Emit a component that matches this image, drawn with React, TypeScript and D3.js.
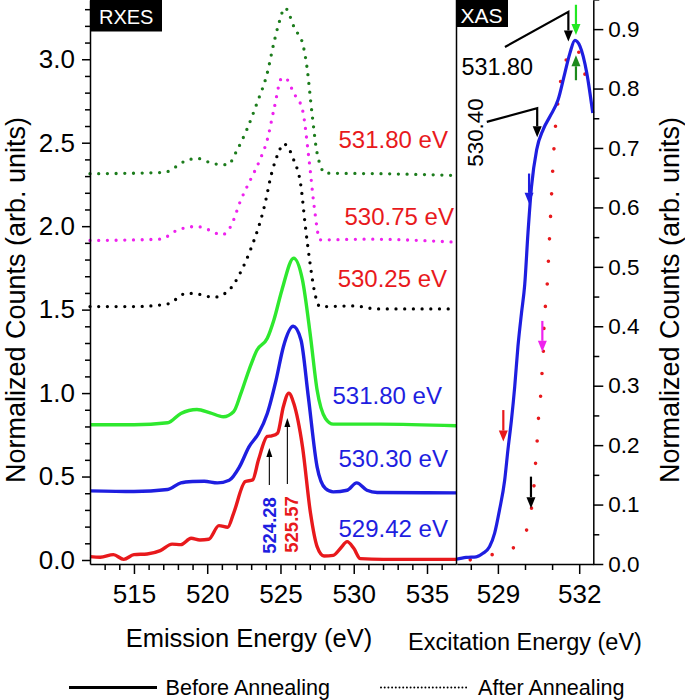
import { useEffect, useRef } from "react";
import * as d3 from "d3";

type Pt = [number, number];

const FONT = "'Liberation Sans', Arial, Helvetica, sans-serif";

// RXES spectra: emission energy (eV), normalized counts (vertical offsets included)
const rxes52942: Pt[] = [
  [512.0, 0.02], [512.7, 0.016], [513.6, 0.032], [514.3, 0.004], [515.0, 0.032],
  [515.9, 0.036], [516.8, 0.056], [517.6, 0.095], [518.2, 0.092], [518.9, 0.13],
  [519.5, 0.12], [520.1, 0.124], [520.8, 0.206], [521.4, 0.196], [521.8, 0.28],
  [522.6, 0.47], [523.1, 0.48], [523.5, 0.6], [524.1, 0.74], [524.4, 0.744],
  [524.8, 0.76], [525.2, 0.92], [525.57, 1.0], [525.9, 0.94], [526.5, 0.68],
  [527.05, 0.28], [527.5, 0.08], [527.97, 0.024], [528.6, 0.028], [529.1, 0.07],
  [529.55, 0.11], [530.0, 0.07], [530.45, 0.008], [532.0, 0.004], [537.0, 0.004],
];
const rxes53030: Pt[] = [
  [512.0, 0.414], [515.0, 0.41], [517.3, 0.422], [518.2, 0.462], [519.0, 0.47],
  [519.8, 0.472], [520.7, 0.462], [521.5, 0.478], [522.2, 0.558], [522.85, 0.678],
  [523.5, 0.758], [524.1, 0.878], [524.7, 1.078], [525.2, 1.278], [525.87, 1.4],
  [526.4, 1.318], [526.9, 0.978], [527.5, 0.558], [528.07, 0.428], [528.6, 0.408],
  [529.55, 0.418], [530.2, 0.462], [530.9, 0.418], [531.6, 0.404], [537.0, 0.402],
];
const rxes53180: Pt[] = [
  [512.0, 0.81], [515.0, 0.81], [517.3, 0.822], [518.2, 0.878], [519.3, 0.902],
  [520.2, 0.882], [521.1, 0.858], [521.8, 0.888], [522.3, 0.998], [522.85, 1.138],
  [523.4, 1.258], [524.1, 1.328], [524.55, 1.438], [525.1, 1.618], [525.9, 1.808],
  [526.5, 1.678], [527.05, 1.338], [527.5, 1.018], [528.07, 0.848], [528.6, 0.814],
  [531.8, 0.814], [537.0, 0.804],
];
const rxesA53025: Pt[] = [
  [512.0, 1.518], [515.0, 1.518], [517.3, 1.534], [518.6, 1.598], [519.3, 1.594],
  [520.45, 1.574], [521.5, 1.618], [522.3, 1.728], [522.95, 1.858], [523.9, 2.118],
  [524.4, 2.318], [524.9, 2.448], [525.2, 2.494], [525.9, 2.398], [526.4, 2.238],
  [526.7, 1.998], [527.05, 1.758], [527.3, 1.618], [527.7, 1.518], [530.0, 1.522],
  [531.6, 1.504], [537.0, 1.504],
];
const rxesA53075: Pt[] = [
  [512.0, 1.914], [516.8, 1.922], [518.0, 1.978], [519.3, 1.998], [520.1, 1.978],
  [521.0, 1.948], [521.6, 1.998], [522.3, 2.158], [522.95, 2.278], [523.6, 2.398],
  [524.1, 2.518], [524.55, 2.698], [525.1, 2.888], [525.45, 2.878], [525.9, 2.798],
  [526.5, 2.698], [526.95, 2.398], [527.3, 2.118], [527.7, 1.918], [530.9, 1.922],
  [537.0, 1.904],
];
const rxesA53180: Pt[] = [
  [512.0, 2.314], [517.05, 2.322], [518.6, 2.394], [519.3, 2.406], [520.45, 2.374],
  [521.4, 2.368], [522.05, 2.458], [522.7, 2.578], [523.4, 2.738], [524.1, 2.918],
  [524.55, 3.098], [524.9, 3.218], [525.3, 3.308], [526.0, 3.178], [526.5, 3.098],
  [526.8, 2.958], [527.15, 2.678], [527.5, 2.438], [528.07, 2.318], [532.05, 2.314],
  [537.0, 2.304],
];

// XAS: excitation energy (eV), normalized counts
const xasBefore: Pt[] = [
  [527.46, 0.008], [527.83, 0.011], [528.2, 0.012], [528.45, 0.018], [528.69, 0.029],
  [528.88, 0.052], [529.06, 0.091], [529.25, 0.141], [529.37, 0.192], [529.5, 0.242],
  [529.62, 0.298], [529.74, 0.366], [529.87, 0.422], [529.99, 0.47], [530.11, 0.557],
  [530.24, 0.635], [530.43, 0.697], [530.67, 0.731], [530.92, 0.753], [531.22, 0.781],
  [531.47, 0.826], [531.66, 0.86], [531.84, 0.881], [532.03, 0.871], [532.28, 0.826],
  [532.5, 0.759],
];
const xasAfter: Pt[] = [
  [527.98, 0.007], [528.72, 0.015], [529.49, 0.025], [530.05, 0.056], [530.24, 0.094],
  [530.33, 0.131], [530.39, 0.17], [530.45, 0.208], [530.5, 0.247], [530.58, 0.285],
  [530.63, 0.323], [530.68, 0.361], [530.7, 0.4], [530.76, 0.438], [530.83, 0.478],
  [530.87, 0.516], [530.91, 0.554], [530.95, 0.592], [530.99, 0.631], [531.03, 0.669],
  [531.08, 0.707], [531.14, 0.745], [531.23, 0.783], [531.35, 0.822], [531.6, 0.855],
  [531.9, 0.869], [532.15, 0.831], [532.46, 0.805],
];

const rxesLabels = ["531.80 eV", "530.75 eV", "530.25 eV", "531.80 eV", "530.30 eV", "529.42 eV"];
// where each label ends (energy) and sits (count), same order as rxesLabels
const rxesLabelAt: Pt[] = [
  [536.43, 2.469], [536.84, 2.007], [536.37, 1.636], [536.02, 0.935], [536.43, 0.557], [536.43, 0.138],
];

const emissionTicks = [515, 520, 525, 530, 535];
const emissionMinor = d3.range(513, 537).filter((v) => v % 5 !== 0);
const excitationTicks = [529, 532];
const excitationMinor = [528, 530, 531];
const leftTicks = [0, 0.5, 1.0, 1.5, 2.0, 2.5, 3.0];
const leftMinor = d3.range(0, 34).filter((i) => i % 5 !== 0).map((i) => i / 10);
const rightTicks = d3.range(0, 10).map((i) => i / 10);
const rightMinor = d3.range(0, 10).map((i) => i / 10 + 0.05);

const peakLabels = ["524.28", "525.57"];
const xasLabels = ["531.80", "530.40"];

const RED = "#e8191c";
const BLUE = "#1e1ee0";

export default function App() {
  const svgRef = useRef<SVGSVGElement>(null);

  useEffect(() => {
    const svg = d3.select(svgRef.current);
    svg.selectAll("*").remove();

    const xL = d3.scaleLinear().domain([512, 537]).range([90, 456.3]);
    const yL = d3.scaleLinear().domain([-0.024, 3.355]).range([564, 0]);
    const xR = d3.scaleLinear().domain([527.48, 532.52]).range([456.7, 593.3]);
    const yR = d3.scaleLinear().domain([0, 0.949]).range([564, 0]);

    const g = svg.append("g").attr("font-family", FONT);

    const series = [
      { data: rxesA53180, color: "#1c7c1c", dotted: true, labelColor: RED },
      { data: rxesA53075, color: "#ee22ee", dotted: true, labelColor: RED },
      { data: rxesA53025, color: "#000", dotted: true, labelColor: RED },
      { data: rxes53180, color: "#2ee82e", dotted: false, labelColor: BLUE },
      { data: rxes53030, color: BLUE, dotted: false, labelColor: BLUE },
      { data: rxes52942, color: RED, dotted: false, labelColor: BLUE },
    ];

    const lineL = d3
      .line<Pt>()
      .x((d) => xL(d[0]))
      .y((d) => yL(d[1]))
      .curve(d3.curveMonotoneX);

    series.forEach((s, i) => {
      const p = g
        .append("path")
        .attr("d", lineL(s.data))
        .attr("fill", "none")
        .attr("stroke", s.color)
        .attr("stroke-width", s.dotted ? 3.3 : 3.4)
        .attr("stroke-linejoin", "round");
      if (s.dotted) p.attr("stroke-dasharray", "0 8.7").attr("stroke-linecap", "round");

      const [lx, ly] = rxesLabelAt[i];
      g.append("text")
        .attr("x", xL(lx))
        .attr("y", yL(ly))
        .attr("text-anchor", "end")
        .attr("font-size", 24)
        .attr("fill", s.labelColor)
        .text(rxesLabels[i]);
    });

    // XAS curves
    const lineR = d3
      .line<Pt>()
      .x((d) => xR(d[0]))
      .y((d) => yR(d[1]))
      .curve(d3.curveMonotoneX);

    g.append("path")
      .attr("d", lineR(xasAfter))
      .attr("fill", "none")
      .attr("stroke", RED)
      .attr("stroke-width", 3.6)
      .attr("stroke-linecap", "round")
      .attr("stroke-dasharray", "0 22.5");

    g.append("path")
      .attr("d", lineR(xasBefore))
      .attr("fill", "none")
      .attr("stroke", BLUE)
      .attr("stroke-width", 3.2);

    // arrows
    const arrow = (pts: Pt[], color: string, sw: number, hl: number, hw: number) => {
      const n = pts.length;
      const [x1, y1] = pts[n - 2];
      const [x2, y2] = pts[n - 1];
      const len = Math.hypot(x2 - x1, y2 - y1);
      const ux = (x2 - x1) / len;
      const uy = (y2 - y1) / len;
      const bx = x2 - ux * hl;
      const by = y2 - uy * hl;
      const shaft: Pt[] = [...pts.slice(0, -1), [bx, by]];
      g.append("path")
        .attr("d", d3.line()(shaft))
        .attr("fill", "none")
        .attr("stroke", color)
        .attr("stroke-width", sw);
      g.append("path")
        .attr("d", `M${x2},${y2}L${bx - uy * hw},${by + ux * hw}L${bx + uy * hw},${by - ux * hw}Z`)
        .attr("fill", color);
    };

    const toL = (p: Pt): Pt => [xL(p[0]), yL(p[1])];
    const toR = (p: Pt): Pt => [xR(p[0]), yR(p[1])];

    // RXES peak markers
    arrow([[524.24, 0.449], [524.24, 0.671]].map(toL) as Pt[], "#000", 1.1, 9, 3);
    arrow([[525.47, 0.455], [525.47, 0.851]].map(toL) as Pt[], "#000", 1.1, 9, 3);
    [
      { e: 524.69, v: 0.207, color: BLUE },
      { e: 526.22, v: 0.213, color: RED },
    ].forEach((d, i) => {
      g.append("text")
        .attr("transform", `translate(${xL(d.e)},${yL(d.v)}) rotate(-90)`)
        .attr("text-anchor", "middle")
        .attr("font-size", 18.5)
        .attr("font-weight", "bold")
        .attr("fill", d.color)
        .text(peakLabels[i]);
    });

    // XAS excitation markers
    arrow([[531.88, 0.941], [531.88, 0.89]].map(toR) as Pt[], "#22e822", 2.2, 11, 4.5);
    arrow([[531.88, 0.814], [531.88, 0.856]].map(toR) as Pt[], "#1c8a1c", 2.2, 11, 4.5);
    arrow([[529.26, 0.87], [531.6, 0.929], [531.6, 0.879]].map(toR) as Pt[], "#000", 2.2, 11, 4.5);
    arrow([[528.59, 0.744], [530.45, 0.767], [530.45, 0.718]].map(toR) as Pt[], "#000", 2.2, 11, 4.5);
    arrow([[530.15, 0.657], [530.15, 0.606]].map(toR) as Pt[], BLUE, 2.2, 11, 4.5);
    arrow([[530.64, 0.409], [530.64, 0.357]].map(toR) as Pt[], "#ee22ee", 2.2, 11, 4.5);
    arrow([[529.2, 0.259], [529.2, 0.206]].map(toR) as Pt[], RED, 2.2, 11, 4.5);
    arrow([[530.22, 0.147], [530.22, 0.094]].map(toR) as Pt[], "#000", 2.2, 11, 4.5);

    g.append("text")
      .attr("x", xR(527.66))
      .attr("y", yR(0.823))
      .attr("font-size", 23.4)
      .text(xasLabels[0]);
    g.append("text")
      .attr("transform", `translate(${xR(528.46)},${yR(0.726)}) rotate(-90)`)
      .attr("text-anchor", "middle")
      .attr("font-size", 22.4)
      .text(xasLabels[1]);

    // axes
    const styleAxis = (sel: d3.Selection<SVGGElement, unknown, null, undefined>, fs: number, keepDomain = true) => {
      sel.attr("font-family", FONT);
      if (keepDomain) sel.select(".domain").attr("stroke", "#000").attr("stroke-width", 1.5);
      else sel.select(".domain").remove();
      sel.selectAll(".tick line").attr("stroke", "#000").attr("stroke-width", 1.5);
      sel.selectAll(".tick text").attr("font-size", fs).attr("fill", "#000");
    };

    const bottomL = g.append("g").attr("transform", "translate(0,564)");
    bottomL.call(d3.axisBottom(xL).tickValues(emissionTicks).tickSize(10).tickSizeOuter(0).tickPadding(10.5).tickFormat(d3.format("d")));
    styleAxis(bottomL, 26);
    const bottomLm = g.append("g").attr("transform", "translate(0,564)");
    bottomLm.call(d3.axisBottom(xL).tickValues(emissionMinor).tickSize(6).tickFormat(() => ""));
    styleAxis(bottomLm, 10, false);

    const bottomR = g.append("g").attr("transform", "translate(0,564)");
    bottomR.call(d3.axisBottom(xR).tickValues(excitationTicks).tickSize(10).tickSizeOuter(0).tickPadding(10.5).tickFormat(d3.format("d")));
    styleAxis(bottomR, 26);
    const bottomRm = g.append("g").attr("transform", "translate(0,564)");
    bottomRm.call(d3.axisBottom(xR).tickValues(excitationMinor).tickSize(6).tickFormat(() => ""));
    styleAxis(bottomRm, 10, false);

    const left = g.append("g").attr("transform", "translate(90,0)");
    left.call(d3.axisLeft(yL).tickValues(leftTicks).tickSize(8).tickSizeOuter(0).tickPadding(7).tickFormat(d3.format(".1f")));
    styleAxis(left, 26);
    const leftm = g.append("g").attr("transform", "translate(90,0)");
    leftm.call(d3.axisLeft(yL).tickValues(leftMinor).tickSize(5).tickFormat(() => ""));
    styleAxis(leftm, 10, false);

    const right = g.append("g").attr("transform", "translate(593.3,0)");
    right.call(d3.axisRight(yR).tickValues(rightTicks).tickSize(10).tickSizeOuter(0).tickPadding(5).tickFormat(d3.format(".1f")));
    styleAxis(right, 22.5);
    const rightm = g.append("g").attr("transform", "translate(593.3,0)");
    rightm.call(d3.axisRight(yR).tickValues(rightMinor).tickSize(6).tickFormat(() => ""));
    styleAxis(rightm, 10, false);

    // panel divider
    g.append("line")
      .attr("x1", 456.5).attr("x2", 456.5)
      .attr("y1", 0).attr("y2", 564)
      .attr("stroke", "#000").attr("stroke-width", 1.5);

    // panel tags
    g.append("rect").attr("x", 90).attr("y", 0).attr("width", 72).attr("height", 31.5).attr("fill", "#000");
    g.append("text").attr("x", 99).attr("y", 23.5).attr("font-size", 20).attr("fill", "#fff").text("RXES");
    g.append("rect").attr("x", 456.5).attr("y", 0).attr("width", 51.5).attr("height", 27).attr("fill", "#000");
    g.append("text").attr("x", 460.5).attr("y", 22.5).attr("font-size", 21).attr("fill", "#fff").text("XAS");

    // axis titles
    g.append("text")
      .attr("transform", "translate(25,300) rotate(-90)")
      .attr("text-anchor", "middle")
      .attr("font-size", 27)
      .text("Normalized Counts (arb. units)");
    g.append("text")
      .attr("transform", "translate(679,300) rotate(-90)")
      .attr("text-anchor", "middle")
      .attr("font-size", 27)
      .text("Normalized Counts (arb. units)");
    g.append("text")
      .attr("x", 249).attr("y", 646.5)
      .attr("text-anchor", "middle")
      .attr("font-size", 25.5)
      .text("Emission Energy (eV)");
    g.append("text")
      .attr("x", 525).attr("y", 650)
      .attr("text-anchor", "middle")
      .attr("font-size", 23.5)
      .text("Excitation Energy (eV)");

    // legend
    g.append("line")
      .attr("x1", 69).attr("x2", 157).attr("y1", 687.5).attr("y2", 687.5)
      .attr("stroke", "#000").attr("stroke-width", 3);
    g.append("text").attr("x", 165.5).attr("y", 695).attr("font-size", 21.6).text("Before Annealing");
    g.append("line")
      .attr("x1", 381).attr("x2", 467).attr("y1", 687.5).attr("y2", 687.5)
      .attr("stroke", "#000").attr("stroke-width", 2)
      .attr("stroke-linecap", "round").attr("stroke-dasharray", "0 3.7");
    g.append("text").attr("x", 478).attr("y", 695).attr("font-size", 21.6).text("After Annealing");
  }, []);

  return (
    <svg
      ref={svgRef}
      width={685}
      height={700}
      style={{ position: "absolute", left: 0, top: 0, background: "#fff" }}
    />
  );
}
